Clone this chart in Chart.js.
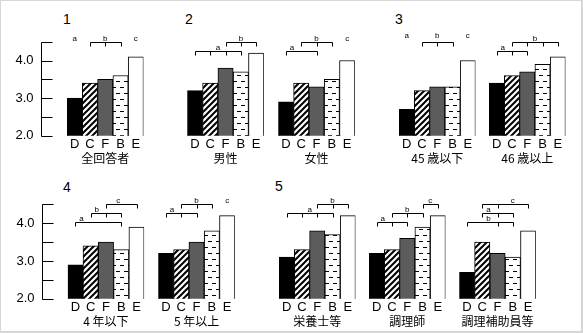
<!DOCTYPE html>
<html>
<head>
<meta charset="utf-8">
<script src="https://cdn.jsdelivr.net/npm/chart.js@4.4.1/dist/chart.umd.min.js"></script>
<style>
  html, body { margin: 0; padding: 0; background: #fff; }
  #frame { position: relative; width: 583px; height: 333px; overflow: hidden; background: #fff; }
  #frame canvas { position: absolute; }
  #edge { position: absolute; left: 0; top: 0; right: 0; bottom: 0; box-sizing: border-box;
          border-style: solid; border-color: #d6d6d6; border-width: 1px 2px 2px 1px; pointer-events: none; }
  .num { position: absolute; font: 14px/16px "Liberation Sans", Arial, sans-serif; color: #000; }
</style>
</head>
<body>
<div id="frame">
  <div class="num" style="left:63px;top:11px">1</div>
  <div class="num" style="left:185px;top:11px">2</div>
  <div class="num" style="left:395px;top:11px">3</div>
  <div class="num" style="left:63px;top:179px">4</div>
  <div class="num" style="left:275px;top:178px">5</div>
  <div id="edge"></div>
</div>
<script>
// bar order within every panel
const categories = ['D', 'C', 'F', 'B', 'E'];
const yTicks = [2.0, 2.5, 3.0, 3.5, 4.0, 4.5];

// mean scores per panel
const scoreAll = [3.0, 3.4, 3.5, 3.6, 4.1];
const scoreMale = [3.2, 3.4, 3.8, 3.7, 4.2];
const scoreFemale = [2.9, 3.4, 3.3, 3.5, 4.0];
const scoreAge45Under = [2.7, 3.2, 3.3, 3.3, 4.0];
const scoreAge46Over = [3.4, 3.6, 3.7, 3.9, 4.1];
const scoreYears4Under = [2.9, 3.4, 3.5, 3.3, 3.9];
const scoreYears5Over = [3.2, 3.3, 3.5, 3.8, 4.2];
const scoreDietitian = [3.1, 3.3, 3.8, 3.7, 4.2];
const scoreCook = [3.2, 3.3, 3.6, 3.9, 4.2];
const scoreCookAssistant = [2.7, 3.5, 3.2, 3.1, 3.8];

// groups that share a letter (no significant difference)
const sigAll = [{ letter: 'a', members: [0] }, { letter: 'b', members: [1, 2, 3] }, { letter: 'c', members: [4] }];
const sigMale = [{ letter: 'a', members: [0, 1, 2, 3] }, { letter: 'b', members: [2, 3, 4] }];
const sigFemale = [{ letter: 'a', members: [0, 2] }, { letter: 'b', members: [1, 2, 3] }, { letter: 'c', members: [4] }];
const sigAge45Under = [{ letter: 'a', members: [0] }, { letter: 'b', members: [1, 2, 3] }, { letter: 'c', members: [4] }];
const sigAge46Over = [{ letter: 'a', members: [0, 1, 2] }, { letter: 'b', members: [1, 2, 3, 4] }];
const sigYears4Under = [{ letter: 'a', members: [0, 3] }, { letter: 'b', members: [1, 2, 3] }, { letter: 'c', members: [2, 4] }];
const sigYears5Over = [{ letter: 'a', members: [0, 1, 2] }, { letter: 'b', members: [1, 2, 3] }, { letter: 'c', members: [4] }];
const sigDietitian = [{ letter: 'a', members: [0, 1, 2, 3] }, { letter: 'b', members: [2, 3, 4] }];
const sigCook = [{ letter: 'a', members: [0, 1, 2] }, { letter: 'b', members: [1, 2, 3] }, { letter: 'c', members: [3, 4] }];
const sigCookAssistant = [{ letter: 'b', members: [0, 2, 3] }, { letter: 'a', members: [1, 2, 3] }, { letter: 'c', members: [1, 2, 4] }];

// bracket placement: level 0 is the top of the plot, each level steps down; "at" is where the letter sits
const BAR_SPAN = 76.5;
const LEVEL_STEP = 9;
const ROWS = [
  { top: 0, height: 170, plotTop: 41.7, base: 135.7 },
  { top: 166, height: 167, plotTop: 204.3, base: 298.7 }
];

const panels = [
  { name: '全回答者', values: scoreAll, sig: sigAll, row: 0, left: 67.0, axis: true,
    place: [{ level: 0 }, { level: 0 }, { level: 0 }] },
  { name: '男性', values: scoreMale, sig: sigMale, row: 0, left: 187.3,
    place: [{ level: 1 }, { level: 0, at: 3 }] },
  { name: '女性', values: scoreFemale, sig: sigFemale, row: 0, left: 278.3,
    place: [{ level: 1, at: 0.4 }, { level: 0 }, { level: 0 }] },
  { name: '45 歳以下', values: scoreAge45Under, sig: sigAge45Under, row: 0, left: 399.0,
    place: [{ level: 0, lift: 3 }, { level: 0, lift: 3 }, { level: 0, lift: 3 }] },
  { name: '46 歳以上', values: scoreAge46Over, sig: sigAge46Over, row: 0, left: 489.0,
    place: [{ level: 1, at: 0.4 }, { level: 0 }] },
  { name: '4 年以下', values: scoreYears4Under, sig: sigYears4Under, row: 1, left: 67.7, axis: true,
    place: [{ level: 2, at: 0.4 }, { level: 1, at: 1.4 }, { level: 0, at: 2.8 }] },
  { name: '5 年以上', values: scoreYears5Over, sig: sigYears5Over, row: 1, left: 158.3,
    place: [{ level: 1, at: 0.4 }, { level: 0 }, { level: 0 }] },
  { name: '栄養士等', values: scoreDietitian, sig: sigDietitian, row: 1, left: 279.0,
    place: [{ level: 1 }, { level: 0, at: 3 }] },
  { name: '調理師', values: scoreCook, sig: sigCook, row: 1, left: 369.0,
    place: [{ level: 2, at: 0.4 }, { level: 1 }, { level: 0 }] },
  { name: '調理補助員等', values: scoreCookAssistant, sig: sigCookAssistant, row: 1, left: 459.3,
    place: [{ level: 2, at: 1.4 }, { level: 1, at: 1.4 }, { level: 0, at: 3 }] }
];

function hatchFill() {
  const c = document.createElement('canvas');
  c.width = 6; c.height = 6;
  const g = c.getContext('2d');
  g.fillStyle = '#fff';
  g.fillRect(0, 0, 6, 6);
  g.strokeStyle = '#000';
  g.lineWidth = 2;
  g.beginPath();
  g.moveTo(-1, 7); g.lineTo(7, -1);
  g.moveTo(-1, 1); g.lineTo(1, -1);
  g.moveTo(5, 7); g.lineTo(7, 5);
  g.stroke();
  return g.createPattern(c, 'repeat');
}

function dashFill() {
  const c = document.createElement('canvas');
  c.width = 8; c.height = 12;
  const g = c.getContext('2d');
  g.fillStyle = '#fff';
  g.fillRect(0, 0, 8, 12);
  g.fillStyle = '#000';
  g.fillRect(0, 3, 4, 1);
  g.fillRect(4, 9, 4, 1);
  return g.createPattern(c, 'repeat');
}

const FILLS = ['#000000', hatchFill(), '#5c5c5c', dashFill(), '#ffffff'];

// significance brackets above the bars
function bracketPlugin(sig, place) {
  return {
    id: 'brackets',
    afterDatasetsDraw(chart) {
      const { ctx, chartArea, scales: { x } } = chart;
      ctx.save();
      ctx.strokeStyle = '#000';
      ctx.lineWidth = 1;
      ctx.fillStyle = '#000';
      ctx.font = '8px "Liberation Sans", Arial, sans-serif';
      ctx.textAlign = 'center';
      ctx.textBaseline = 'alphabetic';
      sig.forEach((g, i) => {
        const p = place[i] || { level: 0 };
        const y = Math.round(chartArea.top + p.level * LEVEL_STEP) + 0.5;
        const m = g.members;
        const at = typeof p.at === 'number' ? p.at : (m[0] + m[m.length - 1]) / 2;
        if (m.length > 1) {
          const xs = m.map(v => Math.round(x.getPixelForValue(v)) + 0.5);
          ctx.beginPath();
          ctx.moveTo(xs[0], y);
          ctx.lineTo(xs[xs.length - 1], y);
          xs.forEach(px => { ctx.moveTo(px, y); ctx.lineTo(px, y + 4); });
          ctx.stroke();
        }
        ctx.fillText(g.letter, x.getPixelForValue(at), y - 1.5 - (p.lift || 0));
      });
      ctx.restore();
    }
  };
}

// value axis with inward ticks, drawn a little left of the first bar
function leftAxisPlugin(show) {
  return {
    id: 'leftAxis',
    afterDraw(chart) {
      if (!show) return;
      const { ctx, chartArea, scales: { y } } = chart;
      const ax = Math.round(chartArea.left - 26) + 0.5;
      ctx.save();
      ctx.strokeStyle = '#000';
      ctx.lineWidth = 1;
      ctx.beginPath();
      ctx.moveTo(ax, Math.round(y.getPixelForValue(yTicks[0])) + 0.5);
      ctx.lineTo(ax, Math.round(y.getPixelForValue(yTicks[yTicks.length - 1])) + 0.5);
      yTicks.forEach(v => {
        const py = Math.round(y.getPixelForValue(v)) + 0.5;
        ctx.moveTo(ax, py);
        ctx.lineTo(ax + 11, py);
      });
      ctx.stroke();
      ctx.fillStyle = '#000';
      ctx.font = '13px "Liberation Sans", Arial, sans-serif';
      ctx.textAlign = 'right';
      ctx.textBaseline = 'middle';
      yTicks.filter(v => Number.isInteger(v)).forEach(v => {
        ctx.fillText(v.toFixed(1), ax - 8, y.getPixelForValue(v));
      });
      ctx.restore();
    }
  };
}

const frame = document.getElementById('frame');
const edge = document.getElementById('edge');

panels.forEach(p => {
  const row = ROWS[p.row];
  const cLeft = p.axis ? 0 : Math.floor(p.left) - 22;
  const cWidth = Math.ceil(p.left + BAR_SPAN) + 22 - cLeft;
  const cv = document.createElement('canvas');
  cv.width = cWidth;
  cv.height = row.height;
  cv.style.left = cLeft + 'px';
  cv.style.top = row.top + 'px';
  frame.insertBefore(cv, edge);

  const padLeft = p.left - cLeft;
  const padRight = cWidth - padLeft - BAR_SPAN;
  const axisHeight = row.top + row.height - row.base;

  new Chart(cv, {
    type: 'bar',
    data: {
      labels: categories,
      datasets: [{
        data: p.values,
        backgroundColor: FILLS,
        borderColor: '#000',
        borderWidth: 1,
        borderSkipped: false,
        barPercentage: 1,
        categoryPercentage: 1
      }]
    },
    options: {
      responsive: false,
      animation: false,
      events: [],
      layout: { padding: { left: padLeft, right: padRight, top: row.plotTop - row.top, bottom: 0 } },
      scales: {
        x: {
          grid: { display: false, drawTicks: false },
          border: { display: false },
          ticks: {
            color: '#000', padding: 2, autoSkip: false, maxRotation: 0, minRotation: 0,
            font: { family: '"Liberation Sans", Arial, sans-serif', size: 13, lineHeight: 1 }
          },
          title: {
            display: true,
            text: p.name,
            color: '#000',
            padding: { top: 0, bottom: 4 },
            font: { family: '"Noto Sans CJK JP", sans-serif', size: 12 }
          },
          afterFit(scale) { scale.height = axisHeight; }
        },
        y: { display: false, min: 2, max: 4.5 }
      },
      plugins: {
        legend: { display: false },
        tooltip: { enabled: false }
      }
    },
    plugins: [bracketPlugin(p.sig, p.place), leftAxisPlugin(!!p.axis)]
  });
});
</script>
</body>
</html>
